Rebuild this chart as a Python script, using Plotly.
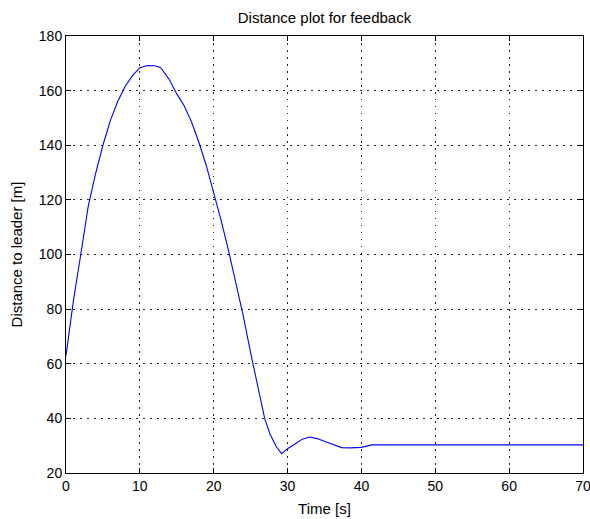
import plotly.graph_objects as go

# Follower distance to the leader over time (feedback controller run)
time_s = [0, 1.0, 2.0, 3.0, 4.0, 5.0, 6.0, 7.0, 8.0, 9.0, 10.0, 11.0, 12.0,
          12.7, 13.0, 14.0, 15.0, 16.0, 17.0, 18.0, 19.0, 20.0, 21.0, 22.0,
          23.0, 24.0, 25.0, 26.0, 26.9, 27.6, 28.5, 29.2, 30.0, 31.0, 32.0,
          33.0, 34.0, 35.8, 37.3, 38.5, 40.0, 41.4, 42.0, 50.0, 60.0, 70.0]
distance_m = [63.0, 83.0, 100.0, 117.5, 129.5, 140.0, 149.0, 156.0, 161.5,
              165.5, 168.4, 169.2, 169.1, 168.6, 167.8, 164.0, 158.8, 154.5,
              148.5, 141.0, 132.5, 123.0, 112.5, 101.5, 90.0, 77.5, 64.0,
              51.5, 40.0, 34.4, 29.5, 27.1, 28.9, 30.6, 32.4, 33.2, 32.6,
              30.8, 29.3, 29.2, 29.4, 30.3, 30.3, 30.3, 30.3, 30.3]

x_ticks = [0, 10, 20, 30, 40, 50, 60, 70]
y_ticks = [20, 40, 60, 80, 100, 120, 140, 160, 180]

FONT = "Liberation Sans, Arial, sans-serif"

fig = go.Figure(
    go.Scatter(
        x=time_s,
        y=distance_m,
        mode="lines",
        line=dict(color="#0000ff", width=1.1),
        showlegend=False,
    )
)

axis_common = dict(
    showline=True,
    linecolor="black",
    linewidth=1,
    mirror="ticks",
    ticks="inside",
    ticklen=5,
    tickcolor="black",
    tickwidth=1,
    showgrid=True,
    gridcolor="#222222",
    gridwidth=1,
    griddash="1.5px,5.5px",
    zeroline=False,
    automargin=False,
    ticklabeloverflow="allow",
    tickfont=dict(family=FONT, size=14, color="black"),
)

fig.update_xaxes(
    range=[0, 70],
    tickvals=x_ticks,
    ticktext=[str(v) for v in x_ticks],
    title=dict(text="Time [s]", font=dict(family=FONT, size=15, color="black"),
               standoff=10),
    **axis_common,
)
fig.update_yaxes(
    range=[20, 180],
    tickvals=y_ticks,
    ticktext=[str(v) for v in y_ticks],
    title=dict(text="Distance to leader [m]",
               font=dict(family=FONT, size=15, color="black"), standoff=12),
    **axis_common,
)

fig.update_layout(
    width=590,
    height=519,
    margin=dict(l=66, r=7, t=36, b=46),
    paper_bgcolor="white",
    plot_bgcolor="white",
    title=dict(
        text="Distance plot for feedback",
        font=dict(family=FONT, size=15, color="black"),
        x=0.5 + (66 - 7) / 2 / 590,
        xanchor="center",
        y=1 - 18 / 519,
        yanchor="middle",
    ),
)

fig.write_html("out.html")
